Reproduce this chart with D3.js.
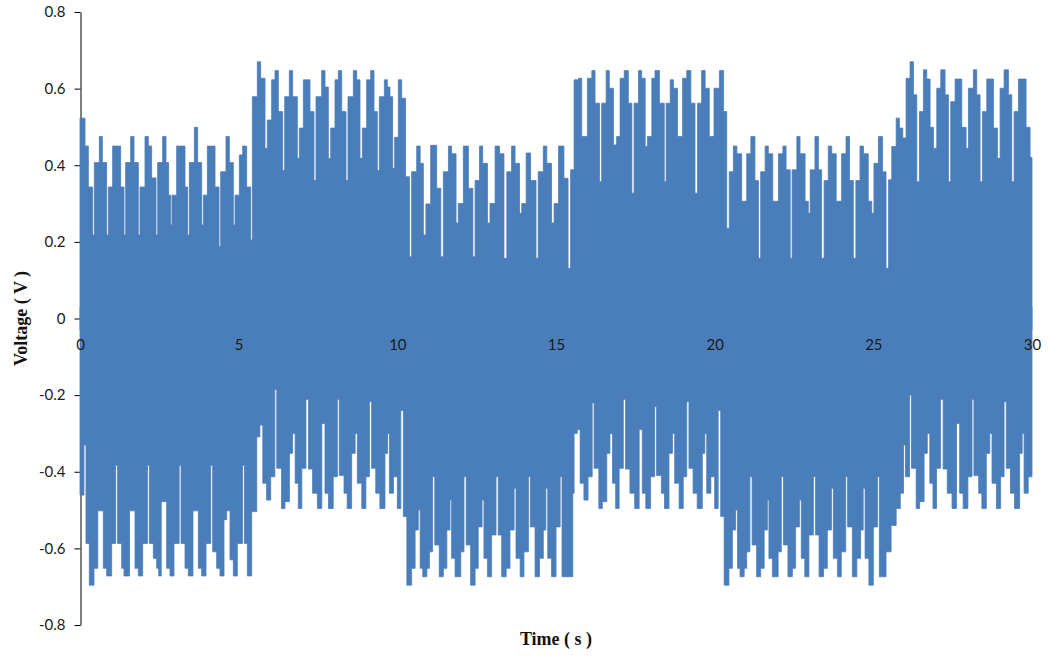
<!DOCTYPE html>
<html>
<head>
<meta charset="utf-8">
<script src="https://cdn.jsdelivr.net/npm/d3@7"></script>
<style>
  html, body { margin: 0; padding: 0; background: #ffffff; }
  svg { display: block; }
  .tick text { font-family: Lato, "Open Sans", sans-serif; font-size: 15px; fill: #1a1a1a; }
  .axis-title { font-family: "Liberation Serif", "Times New Roman", serif; font-weight: bold; font-size: 18px; fill: #111; }
</style>
</head>
<body>
<svg id="chart" width="1050" height="657"></svg>
<script>
// Axis ticks
const yTicks = [-0.8, -0.6, -0.4, -0.2, 0, 0.2, 0.4, 0.6, 0.8];
const xTicks = [0, 5, 10, 15, 20, 25, 30];

// Upper envelope of the recorded voltage: [time (s), peak voltage (V)], held until the next entry
const upper1 = [[0.000,0.523],[0.158,0.450],[0.263,0.343],[0.399,0.218],[0.452,0.407],[0.609,0.475],[0.704,0.407],[0.840,0.218],[0.893,0.343],[1.029,0.450],[1.281,0.343],[1.387,0.218],[1.439,0.407],[1.597,0.475],[1.702,0.407],[1.838,0.218],[1.891,0.343],[2.048,0.475],[2.153,0.450],[2.258,0.367],[2.395,0.218],[2.448,0.407],[2.605,0.475],[2.710,0.407],[2.794,0.322],[2.857,0.244],[2.899,0.322],[3.046,0.450],[3.309,0.343],[3.393,0.218],[3.446,0.407],[3.603,0.499],[3.708,0.407],[3.834,0.244],[3.887,0.322],[4.013,0.450],[4.255,0.343],[4.381,0.187],[4.433,0.383],[4.601,0.475],[4.706,0.407],[4.832,0.244],[4.885,0.322],[5.021,0.427],[5.126,0.450],[5.252,0.343],[5.379,0.205]];
const upper2 = [[5.431,0.579],[5.588,0.670],[5.693,0.627],[5.830,0.444],[5.903,0.518],[6.040,0.623],[6.145,0.647],[6.250,0.540],[6.387,0.386],[6.450,0.579],[6.597,0.647],[6.702,0.579],[6.849,0.418],[6.912,0.497],[7.038,0.623],[7.248,0.540],[7.374,0.360],[7.437,0.579],[7.616,0.647],[7.721,0.604],[7.826,0.418],[7.900,0.497],[8.036,0.623],[8.141,0.647],[8.246,0.540],[8.383,0.360],[8.446,0.579],[8.614,0.647],[8.719,0.623],[8.824,0.418],[8.897,0.497],[9.034,0.623],[9.160,0.647],[9.265,0.540],[9.370,0.386],[9.433,0.579],[9.591,0.623],[9.685,0.604],[9.769,0.579],[9.853,0.392],[9.916,0.473],[10.032,0.623],[10.137,0.575],[10.260,0.370],[10.380,0.161]];
const upper3 = [[10.450,0.383],[10.610,0.450],[10.720,0.405],[10.820,0.218],[10.900,0.299],[11.050,0.452],[11.240,0.340],[11.370,0.161],[11.450,0.383],[11.610,0.450],[11.710,0.430],[11.850,0.249],[11.920,0.300],[12.080,0.450],[12.240,0.340],[12.380,0.161],[12.450,0.360],[12.590,0.450],[12.690,0.405],[12.840,0.249],[12.920,0.300],[13.080,0.450],[13.220,0.430],[13.360,0.157],[13.450,0.383],[13.600,0.450],[13.710,0.405],[13.850,0.275],[13.920,0.300],[14.060,0.432],[14.200,0.360],[14.370,0.157],[14.440,0.383],[14.600,0.450],[14.710,0.405],[14.860,0.249],[14.940,0.300],[15.080,0.450],[15.250,0.366],[15.380,0.131],[15.460,0.388]];
const upper4 = [[15.570,0.623],[15.710,0.627],[15.810,0.475],[15.990,0.627],[16.130,0.647],[16.230,0.562],[16.370,0.357],[16.440,0.562],[16.580,0.647],[16.680,0.601],[16.810,0.453],[16.910,0.475],[17.020,0.627],[17.150,0.647],[17.280,0.562],[17.390,0.327],[17.460,0.562],[17.600,0.647],[17.700,0.627],[17.810,0.449],[17.880,0.475],[18.020,0.627],[18.120,0.647],[18.260,0.562],[18.410,0.357],[18.470,0.562],[18.600,0.623],[18.700,0.601],[18.830,0.475],[18.990,0.627],[19.120,0.647],[19.250,0.562],[19.380,0.327],[19.460,0.562],[19.590,0.647],[19.700,0.601],[19.830,0.475],[19.980,0.601],[20.150,0.647],[20.280,0.540],[20.380,0.235]];
const upper5 = [[20.460,0.383],[20.590,0.450],[20.700,0.430],[20.850,0.306],[21.010,0.430],[21.140,0.475],[21.270,0.360],[21.380,0.157],[21.450,0.383],[21.590,0.450],[21.690,0.430],[21.830,0.306],[22.010,0.430],[22.150,0.450],[22.250,0.388],[22.380,0.157],[22.440,0.388],[22.590,0.475],[22.690,0.430],[22.850,0.306],[22.950,0.275],[23.010,0.388],[23.160,0.475],[23.270,0.388],[23.370,0.157],[23.450,0.360],[23.580,0.450],[23.690,0.430],[23.830,0.306],[24.000,0.430],[24.140,0.475],[24.250,0.360],[24.370,0.157],[24.450,0.360],[24.580,0.450],[24.690,0.430],[24.840,0.306],[24.950,0.275],[25.020,0.405],[25.160,0.475],[25.290,0.383],[25.400,0.131],[25.480,0.362],[25.580,0.449]];
const upper6 = [[25.720,0.523],[25.822,0.497],[25.927,0.471],[26.032,0.627],[26.158,0.670],[26.264,0.584],[26.369,0.357],[26.453,0.540],[26.579,0.649],[26.684,0.625],[26.789,0.499],[26.894,0.444],[26.999,0.601],[27.125,0.649],[27.261,0.584],[27.367,0.357],[27.440,0.566],[27.577,0.625],[27.787,0.499],[27.923,0.444],[27.997,0.601],[28.154,0.649],[28.259,0.584],[28.364,0.357],[28.438,0.540],[28.575,0.625],[28.785,0.497],[28.911,0.418],[28.995,0.601],[29.121,0.649],[29.257,0.584],[29.362,0.357],[29.436,0.540],[29.573,0.625],[29.814,0.499],[29.940,0.420],[30.000,0.420]];

// Lower envelope: [time (s), trough voltage (V)], held until the next entry
const lower1 = [[0.000,-0.461],[0.125,-0.330],[0.189,-0.587],[0.294,-0.696],[0.441,-0.652],[0.560,-0.502],[0.735,-0.652],[0.840,-0.672],[0.998,-0.587],[1.125,-0.383],[1.185,-0.587],[1.313,-0.652],[1.387,-0.672],[1.560,-0.502],[1.733,-0.652],[1.838,-0.672],[1.975,-0.587],[2.125,-0.383],[2.185,-0.587],[2.311,-0.626],[2.416,-0.652],[2.480,-0.672],[2.560,-0.478],[2.731,-0.652],[2.836,-0.672],[2.962,-0.587],[3.125,-0.383],[3.185,-0.587],[3.309,-0.652],[3.414,-0.672],[3.560,-0.502],[3.729,-0.652],[3.835,-0.672],[3.971,-0.587],[4.120,-0.383],[4.181,-0.609],[4.307,-0.652],[4.412,-0.672],[4.538,-0.525],[4.622,-0.502],[4.727,-0.630],[4.832,-0.672],[4.958,-0.587],[5.120,-0.383],[5.180,-0.587],[5.274,-0.672]];
const lower2 = [[5.410,-0.504],[5.570,-0.309],[5.670,-0.278],[5.760,-0.430],[5.880,-0.474],[6.010,-0.413],[6.140,-0.185],[6.200,-0.391],[6.350,-0.496],[6.460,-0.478],[6.600,-0.352],[6.700,-0.300],[6.780,-0.430],[6.880,-0.496],[6.990,-0.391],[7.120,-0.211],[7.200,-0.393],[7.330,-0.456],[7.480,-0.496],[7.620,-0.274],[7.720,-0.456],[7.830,-0.496],[7.980,-0.413],[8.110,-0.211],[8.170,-0.410],[8.320,-0.456],[8.420,-0.496],[8.560,-0.352],[8.670,-0.300],[8.740,-0.430],[8.880,-0.496],[9.010,-0.413],[9.120,-0.217],[9.190,-0.391],[9.320,-0.456],[9.450,-0.496],[9.610,-0.352],[9.690,-0.300],[9.750,-0.456],[9.880,-0.413],[10.000,-0.496],[10.110,-0.240],[10.190,-0.517]];
const lower3 = [[10.300,-0.696],[10.450,-0.652],[10.560,-0.552],[10.660,-0.500],[10.720,-0.652],[10.800,-0.674],[10.930,-0.652],[11.010,-0.609],[11.110,-0.413],[11.180,-0.591],[11.320,-0.674],[11.450,-0.652],[11.560,-0.552],[11.660,-0.474],[11.710,-0.626],[11.820,-0.674],[12.000,-0.609],[12.100,-0.413],[12.170,-0.591],[12.310,-0.696],[12.450,-0.652],[12.550,-0.544],[12.670,-0.474],[12.730,-0.626],[12.840,-0.674],[12.970,-0.565],[13.110,-0.413],[13.180,-0.565],[13.290,-0.674],[13.430,-0.652],[13.550,-0.552],[13.680,-0.443],[13.740,-0.626],[13.870,-0.674],[13.990,-0.609],[14.130,-0.413],[14.190,-0.544],[14.340,-0.674],[14.480,-0.626],[14.600,-0.552],[14.680,-0.443],[14.740,-0.626],[14.860,-0.674],[15.000,-0.544],[15.130,-0.413],[15.190,-0.674]];
const lower4 = [[15.530,-0.456],[15.570,-0.300],[15.670,-0.290],[15.760,-0.430],[15.880,-0.474],[16.010,-0.413],[16.140,-0.220],[16.200,-0.391],[16.350,-0.496],[16.460,-0.478],[16.600,-0.352],[16.700,-0.300],[16.780,-0.430],[16.880,-0.496],[16.990,-0.391],[17.120,-0.211],[17.190,-0.393],[17.330,-0.456],[17.480,-0.496],[17.620,-0.290],[17.720,-0.456],[17.830,-0.496],[17.980,-0.413],[18.110,-0.230],[18.170,-0.410],[18.320,-0.456],[18.420,-0.496],[18.560,-0.352],[18.670,-0.300],[18.740,-0.430],[18.880,-0.496],[19.010,-0.413],[19.120,-0.217],[19.190,-0.391],[19.320,-0.456],[19.450,-0.496],[19.610,-0.352],[19.690,-0.300],[19.750,-0.456],[19.880,-0.413],[20.000,-0.496],[20.110,-0.240],[20.190,-0.517]];
const lower5 = [[20.300,-0.696],[20.450,-0.652],[20.560,-0.552],[20.660,-0.500],[20.720,-0.652],[20.800,-0.674],[20.930,-0.652],[21.010,-0.609],[21.110,-0.413],[21.180,-0.591],[21.320,-0.674],[21.450,-0.652],[21.560,-0.552],[21.660,-0.474],[21.710,-0.626],[21.820,-0.674],[22.000,-0.609],[22.100,-0.413],[22.170,-0.591],[22.310,-0.674],[22.450,-0.652],[22.550,-0.544],[22.670,-0.474],[22.730,-0.626],[22.840,-0.674],[22.970,-0.565],[23.110,-0.413],[23.180,-0.565],[23.290,-0.674],[23.430,-0.652],[23.550,-0.552],[23.680,-0.443],[23.740,-0.626],[23.870,-0.674],[23.990,-0.609],[24.130,-0.413],[24.190,-0.544],[24.340,-0.674],[24.480,-0.626],[24.600,-0.552],[24.680,-0.443],[24.740,-0.626],[24.860,-0.696],[25.000,-0.544],[25.130,-0.413],[25.190,-0.674]];
const lower6 = [[25.400,-0.609],[25.560,-0.540],[25.720,-0.496],[25.850,-0.456],[25.950,-0.330],[26.010,-0.413],[26.140,-0.200],[26.200,-0.391],[26.350,-0.496],[26.460,-0.478],[26.600,-0.352],[26.700,-0.300],[26.780,-0.430],[26.880,-0.496],[26.990,-0.391],[27.120,-0.211],[27.200,-0.393],[27.330,-0.456],[27.480,-0.496],[27.620,-0.274],[27.720,-0.456],[27.830,-0.496],[27.980,-0.413],[28.110,-0.211],[28.170,-0.410],[28.320,-0.456],[28.420,-0.496],[28.560,-0.352],[28.670,-0.300],[28.740,-0.430],[28.880,-0.496],[29.010,-0.413],[29.120,-0.217],[29.190,-0.391],[29.320,-0.456],[29.450,-0.496],[29.610,-0.352],[29.690,-0.300],[29.750,-0.456],[29.880,-0.413],[30.000,-0.413]];

const upperEnvelope = [].concat(upper1, upper2, upper3, upper4, upper5, upper6);
const lowerEnvelope = [].concat(lower1, lower2, lower3, lower4, lower5, lower6);

const seriesColor = "#4a7ebb";

const svg = d3.select("#chart");
const x = d3.scaleLinear().domain([0, 30]).range([80, 1032]);
const y = d3.scaleLinear().domain([-0.8, 0.8]).range([625, 12]);

// Vertical axis sits beneath the signal band
const yAxis = d3.axisLeft(y)
  .tickValues(yTicks)
  .tickSize(6)
  .tickSizeOuter(0)
  .tickPadding(9)
  .tickFormat(d => d === 0 ? "0" : d3.format(".1f")(d).replace("−", "-"));

const yAxisG = svg.append("g")
  .attr("transform", "translate(80.5,0)")
  .call(yAxis);
yAxisG.select(".domain").attr("stroke", "#000").attr("stroke-width", 1);
yAxisG.selectAll(".tick line").attr("stroke", "#000");

// Signal band: the dense oscillation fills everything between the two envelopes
const upperArea = d3.area()
  .curve(d3.curveStepAfter)
  .x(d => x(d[0]))
  .y0(y(-0.03))
  .y1(d => y(d[1]));

const lowerArea = d3.area()
  .curve(d3.curveStepAfter)
  .x(d => x(d[0]))
  .y0(y(0.03))
  .y1(d => y(d[1]));

// A thin outline with round joins gives the soft corners of a plotted trace
const band = svg.append("g").attr("class", "signal");
band.append("path")
  .datum(upperEnvelope)
  .attr("d", upperArea)
  .attr("fill", seriesColor)
  .attr("stroke", seriesColor)
  .attr("stroke-width", 0.8)
  .attr("stroke-linejoin", "round");
band.append("path")
  .datum(lowerEnvelope)
  .attr("d", lowerArea)
  .attr("fill", seriesColor)
  .attr("stroke", seriesColor)
  .attr("stroke-width", 0.8)
  .attr("stroke-linejoin", "round");

// Horizontal axis labels sit on the zero line, drawn over the band
const xAxis = d3.axisBottom(x)
  .tickValues(xTicks)
  .tickSize(0)
  .tickPadding(21)
  .tickFormat(d3.format("d"));

const xAxisG = svg.append("g")
  .attr("transform", `translate(0,${y(0)})`)
  .call(xAxis);
xAxisG.select(".domain").remove();

// Axis titles
svg.append("text")
  .attr("class", "axis-title")
  .attr("transform", `translate(27,${y(0)}) rotate(-90)`)
  .attr("text-anchor", "middle")
  .text("Voltage ( V )");

svg.append("text")
  .attr("class", "axis-title")
  .attr("x", 556)
  .attr("y", 645)
  .attr("text-anchor", "middle")
  .text("Time ( s )");
</script>
</body>
</html>
